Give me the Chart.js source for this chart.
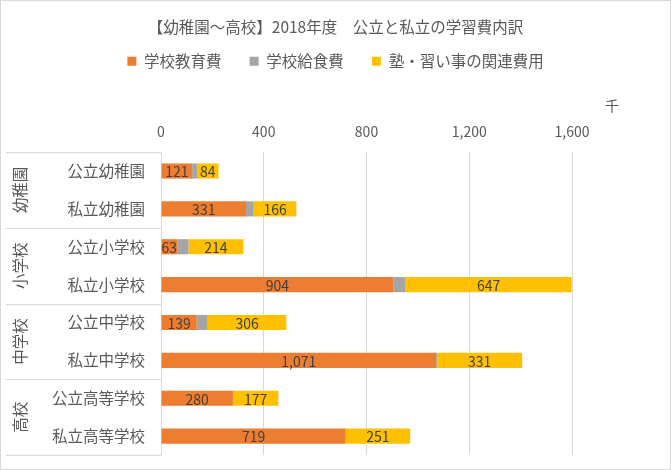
<!DOCTYPE html>
<html lang="ja">
<head>
    <meta charset="UTF-8">
    <title>幼稚園～高校 学習費内訳</title>
    <script src="https://cdn.jsdelivr.net/npm/chart.js"></script>
    <style>
        html, body { margin: 0; padding: 0; background: #fff; }
        .frame {
            width: 671px;
            height: 470px;
            box-sizing: border-box;
            border: 1px solid #d9d9d9;
            position: relative;
        }
        canvas { position: absolute; left: -1px; top: -1px; }
    </style>
</head>
<body>
    <div class="frame">
        <canvas id="chart" width="671" height="470"></canvas>
    </div>

    <script>
        // 千円単位
        const categories = ['公立幼稚園', '私立幼稚園', '公立小学校', '私立小学校', '公立中学校', '私立中学校', '公立高等学校', '私立高等学校'];
        const groups = ['幼稚園', '小学校', '中学校', '高校'];
        const schoolCost = [121, 331, 63, 904, 139, 1071, 280, 719];
        const lunchCost = [19, 30, 44, 48, 43, 4, 0, 0];
        const outsideCost = [84, 166, 214, 647, 306, 331, 177, 251];
        const xTicks = [0, 400, 800, 1200, 1600];

        const FONT = "'Noto Sans CJK JP', 'Noto Sans', sans-serif";
        const TEXT = '#595959';
        const LINE = '#d9d9d9';

        // left table: group names + separators, unit label, value labels
        const extrasPlugin = {
            id: 'extras',
            afterDatasetsDraw(chart) {
                const { ctx, chartArea, scales } = chart;
                const y = scales.y;
                const x = scales.x;
                ctx.save();

                // separators between groups
                const bounds = [chartArea.top];
                for (let i = 1; i < categories.length; i += 2) {
                    if (i + 1 < categories.length) {
                        bounds.push((y.getPixelForValue(i) + y.getPixelForValue(i + 1)) / 2);
                    }
                }
                bounds.push(chartArea.bottom);
                ctx.strokeStyle = LINE;
                ctx.lineWidth = 1;
                bounds.forEach(b => {
                    ctx.beginPath();
                    ctx.moveTo(6, Math.round(b) + 0.5);
                    ctx.lineTo(chartArea.left, Math.round(b) + 0.5);
                    ctx.stroke();
                });

                // rotated group names
                ctx.fillStyle = TEXT;
                ctx.font = `15.5px ${FONT}`;
                ctx.textAlign = 'center';
                ctx.textBaseline = 'middle';
                groups.forEach((g, i) => {
                    const cy = (bounds[i] + bounds[i + 1]) / 2;
                    ctx.save();
                    ctx.translate(20, cy);
                    ctx.rotate(-Math.PI / 2);
                    ctx.fillText(g, 0, 0);
                    ctx.restore();
                });

                // unit
                ctx.font = `14px ${FONT}`;
                ctx.fillText('千', x.right + 40, 106);

                // value labels (orange + yellow only)
                ctx.fillStyle = '#404040';
                ctx.font = `14px ${FONT}`;
                [0, 2].forEach(di => {
                    const meta = chart.getDatasetMeta(di);
                    const data = chart.data.datasets[di].data;
                    meta.data.forEach((bar, i) => {
                        if (!data[i]) return;
                        const cx = (bar.x + bar.base) / 2;
                        ctx.fillText(data[i].toLocaleString('en-US'), cx, bar.y + 1);
                    });
                });
                ctx.restore();
            }
        };

        new Chart(document.getElementById('chart'), {
            type: 'bar',
            data: {
                labels: categories,
                datasets: [
                    { label: '学校教育費', data: schoolCost, backgroundColor: '#ED7D31' },
                    { label: '学校給食費', data: lunchCost, backgroundColor: '#A5A5A5' },
                    { label: '塾・習い事の関連費用', data: outsideCost, backgroundColor: '#FFC000' },
                ],
            },
            options: {
                indexAxis: 'y',
                responsive: false,
                animation: false,
                categoryPercentage: 0.4,
                barPercentage: 1.0,
                layout: { padding: { left: 0, right: 0, top: 0, bottom: 15 } },
                plugins: {
                    title: {
                        display: true,
                        text: '【幼稚園～高校】2018年度　公立と私立の学習費内訳',
                        color: TEXT,
                        font: { family: FONT, size: 15.5, weight: 'normal' },
                        padding: { top: 18, bottom: -11 },
                    },
                    legend: {
                        position: 'top',
                        labels: {
                            color: TEXT,
                            font: { family: FONT, size: 15.5 },
                            boxWidth: 9,
                            boxHeight: 9,
                            padding: 28,
                        },
                    },
                    tooltip: { enabled: false },
                },
                scales: {
                    x: {
                        position: 'top',
                        stacked: true,
                        min: 0,
                        max: 1600,
                        afterBuildTicks: scale => { scale.ticks = xTicks.map(v => ({ value: v })); },
                        afterFit: scale => { scale.height = 73; },
                        ticks: {
                            color: TEXT,
                            font: { family: FONT, size: 14 },
                            padding: 12,
                            callback: v => v.toLocaleString('en-US'),
                        },
                        grid: { color: LINE, drawTicks: false },
                        border: { display: false },
                    },
                    y: {
                        stacked: true,
                        afterFit: scale => {
                            scale.width = 161;
                            // labels sit inside their rows, no extra vertical room needed
                            scale.paddingTop = 0;
                            scale.paddingBottom = 0;
                        },
                        ticks: {
                            color: TEXT,
                            font: { family: FONT, size: 15.5 },
                            padding: 16,
                        },
                        grid: { display: false, drawTicks: false },
                        border: { display: true, color: LINE },
                    },
                    // empty right-hand strip (room for the unit label)
                    yRight: {
                        type: 'linear',
                        position: 'right',
                        afterFit: scale => {
                            scale.width = 99;
                            scale.paddingTop = 0;
                            scale.paddingBottom = 0;
                        },
                        ticks: { display: false },
                        grid: { display: false, drawTicks: false },
                        border: { display: false },
                    },
                },
            },
            plugins: [extrasPlugin],
        });
    </script>
</body>
</html>
